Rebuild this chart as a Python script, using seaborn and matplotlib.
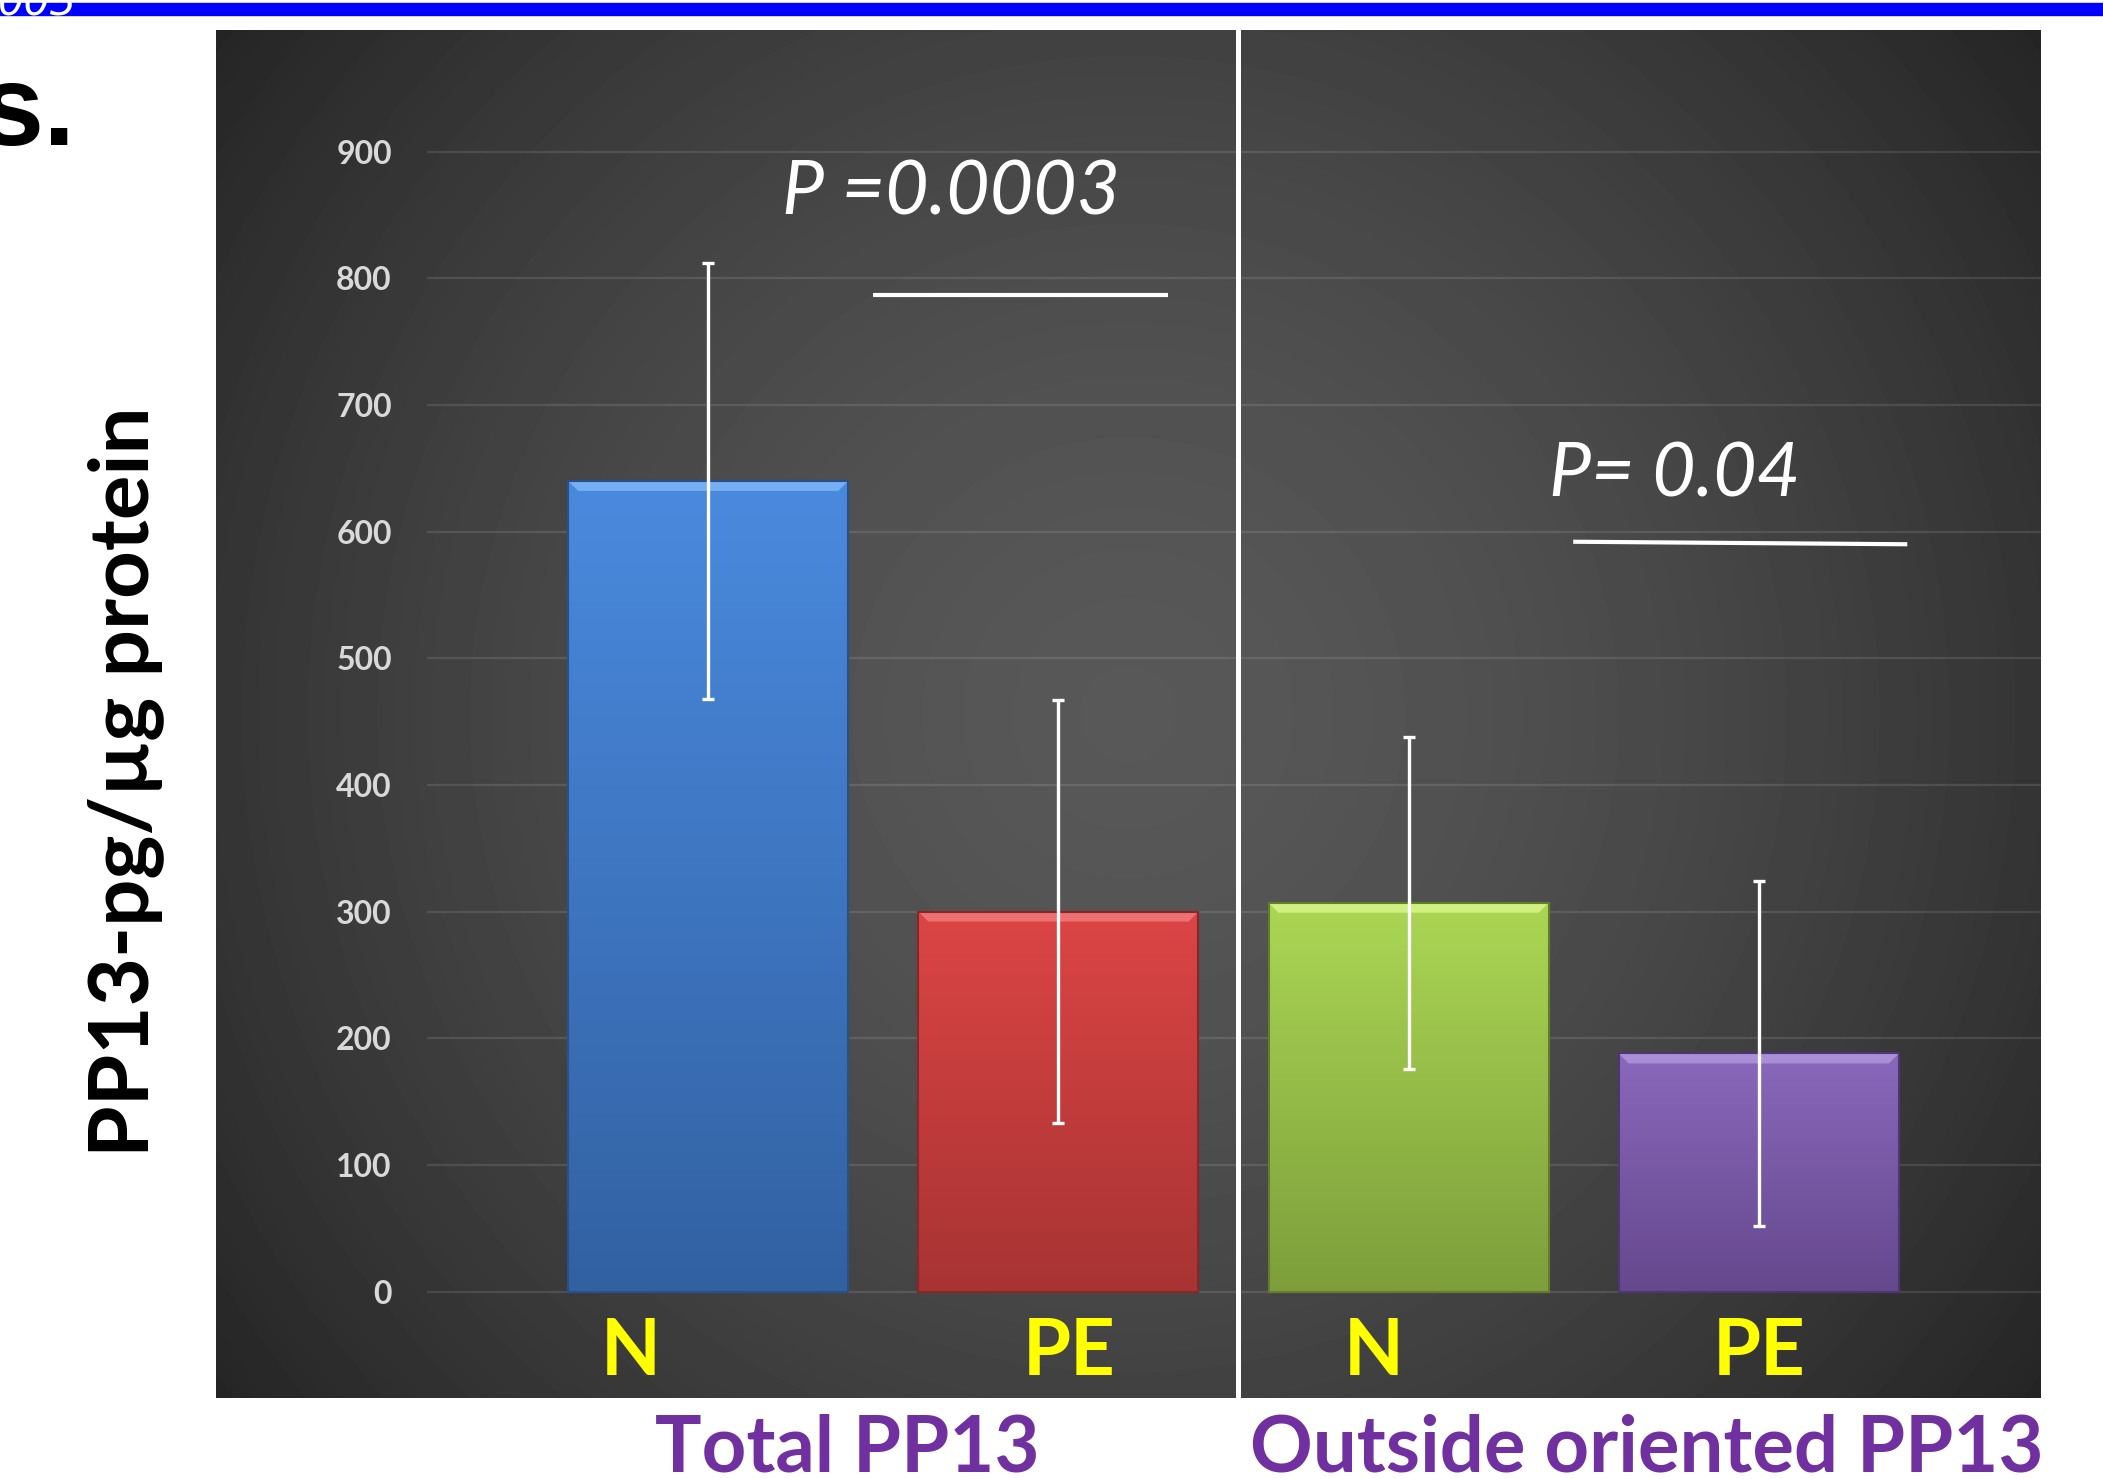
import numpy as np
import pandas as pd
import matplotlib
matplotlib.use("Agg")
import matplotlib.pyplot as plt
import seaborn as sns
from matplotlib.colors import LinearSegmentedColormap
from matplotlib.patches import Rectangle, Polygon

# ---------------- data ----------------
bar_ids = ["Total N", "Total PE", "Outside N", "Outside PE"]
conditions = ["N", "PE", "N", "PE"]
group_names = ["Total PP13", "Outside oriented PP13"]
means = [640, 300, 307, 188]
errors = [172, 167, 131, 136]
yticks = [0, 100, 200, 300, 400, 500, 600, 700, 800, 900]
p_texts = ["P =0.0003", "P= 0.04"]
p_line1 = ([0.47, 1.313], [787, 787])
p_line2 = ([2.47, 3.424], [592, 590])

top_colors = ["#4a8ade", "#dc4545", "#abd754", "#8a68bc"]
bottom_colors = ["#3261a2", "#a83333", "#7d9e3b", "#65488d"]
bevel_colors = ["#7db6f5", "#f27878", "#d8f58a", "#b095dc"]
edge_colors = ["#2a5088", "#862828", "#627d2c", "#4e3670"]

# ---------------- figure ----------------
W, H = 2103, 1479
fig = plt.figure(figsize=(W / 100, H / 100), dpi=100)
fig.patch.set_facecolor("white")

def fx(px):
    return px / W

def fy(py):
    return 1 - py / H

# top blue band
fig.patches.append(Rectangle((0, fy(15)), 1, 12 / H, transform=fig.transFigure,
                             color="#0000ff", zorder=1))
fig.text(fx(-2), fy(15), "003", color="white", fontsize=30, style="italic",
         family="DejaVu Sans", va="baseline", ha="left", zorder=2)
fig.text(fx(-20), fy(145), "s.", color="black", fontsize=83, fontweight="bold",
         family="Liberation Sans", va="baseline", ha="left")

# dark panel with radial gradient
pl, pr, pt, pb = 216, 2041, 30, 1398
bg = fig.add_axes([fx(pl), fy(pb), (pr - pl) / W, (pb - pt) / H], zorder=0)
u = np.linspace(0, 1, 600)
v = np.linspace(0, 1, 450)
U, V = np.meshgrid(u, v)
aspect = (pr - pl) / (pb - pt)
d = np.sqrt(((U - 0.5) * aspect) ** 2 + (V - 0.5) ** 2)
d = d / d.max()
c_center, c_edge = 0.345, 0.145
shade = c_edge + (c_center - c_edge) * (1 - np.clip(d, 0, 1) ** 1.6)
bg.imshow(shade, cmap="gray", vmin=0, vmax=1, aspect="auto",
          extent=[0, 1, 0, 1], interpolation="bilinear")
bg.set_axis_off()

# main axes
px_per_unit = 1.26667
y_lo, y_hi = -4, 996
zero_px = 1291.6
ax_bottom = zero_px - y_lo * px_per_unit
ax_top = zero_px - y_hi * px_per_unit
ax_left, ax_right = 426.5, 2041
ax = fig.add_axes([fx(ax_left), fy(ax_bottom), (ax_right - ax_left) / W,
                   (ax_bottom - ax_top) / H], zorder=2)
ax.patch.set_alpha(0)

df = pd.DataFrame({"bar": bar_ids, "value": means})
sns.barplot(data=df, x="bar", y="value", hue="bar", palette=top_colors,
            width=0.8, errorbar=None, legend=False, ax=ax, zorder=3)

centers = []
for i, patch in enumerate(list(ax.patches)):
    x0, w = patch.get_x(), patch.get_width()
    h = patch.get_height()
    centers.append(x0 + w / 2)
    patch.set_edgecolor(edge_colors[i])
    patch.set_linewidth(1.5)
    cmap = LinearSegmentedColormap.from_list("g%d" % i, [bottom_colors[i], top_colors[i]])
    grad = np.linspace(1, 0, 256).reshape(-1, 1)
    im = ax.imshow(grad, cmap=cmap, aspect="auto", extent=[x0, x0 + w, 0, h],
                   zorder=3.5, interpolation="bilinear")
    im.set_clip_path(patch)
    dy = 10 / px_per_unit
    dx = 10 / 350.2
    ax.add_patch(Polygon([(x0, h), (x0 + w, h), (x0 + w - dx, h - dy), (x0 + dx, h - dy)],
                         closed=True, facecolor=bevel_colors[i], edgecolor="none",
                         alpha=0.85, zorder=3.6))
    ax.add_patch(Rectangle((x0, 0), w, h, facecolor="none", edgecolor=edge_colors[i],
                           lw=1.5, zorder=3.7))

ax.errorbar(centers, means, yerr=errors, fmt="none", ecolor="white",
            elinewidth=2.4, capsize=4, capthick=2.4, zorder=5)

# grid / ticks
ax.set_yticks(yticks)
ax.set_yticklabels([str(t) for t in yticks], fontsize=23, fontweight="bold",
                   color="#d9d9d9", family="Lato")
ax.tick_params(axis="y", length=0, pad=25)
ax.set_xticks([])
ax.xaxis.grid(False)
ax.yaxis.grid(True, color="white", alpha=0.11, linewidth=1.6)
ax.set_axisbelow(True)
for s in ax.spines.values():
    s.set_visible(False)
ax.set_xlabel("")
ax.set_ylabel("")

unit_x = 350.2
x_lo = -(708.2 - ax_left) / unit_x
ax.set_xlim(x_lo, x_lo + (ax_right - ax_left) / unit_x)
ax.set_ylim(y_lo, y_hi)

# divider
div_x = (centers[1] + centers[2]) / 2 + 0.013
ymin_frac = -(pb - ax_bottom) / (ax_bottom - ax_top)
ax.axvline(div_x, ymin=ymin_frac, ymax=1, color="white", lw=3.6, clip_on=False, zorder=6)

# category labels
label_offsets = [-0.22, 0.03, -0.10, 0.0]
label_base = (zero_px - 1375) / px_per_unit
for c, lab, off in zip(centers, conditions, label_offsets):
    ax.text(c + off, label_base, lab, color="#ffff00", fontsize=56, fontweight="bold",
            family="Lato", ha="center", va="baseline", clip_on=False)

# group labels
for name, cx in zip(group_names, [847.6, 1647]):
    fig.text(fx(cx), fy(1472), name, color="#7030a0", fontsize=56, fontweight="bold",
             family="Lato", ha="center", va="baseline")

# y label
fig.text(fx(126), fy(782), "PP13-pg/µg protein", rotation=90, color="black",
         fontsize=60, fontweight="bold", family="Lato", ha="center", va="center")

# p values
ax.text(0.211, 850, p_texts[0], color="white", fontsize=54, style="italic",
        fontweight="normal", family="Lato", ha="left", va="baseline", zorder=7)
ax.text(2.401, 628, p_texts[1], color="white", fontsize=54, style="italic",
        fontweight="normal", family="Lato", ha="left", va="baseline", zorder=7)
ax.plot(*p_line1, color="white", lw=3, zorder=7, solid_capstyle="butt")
ax.plot(*p_line2, color="white", lw=3, zorder=7, solid_capstyle="butt")

fig.savefig("out.png", dpi=100)
